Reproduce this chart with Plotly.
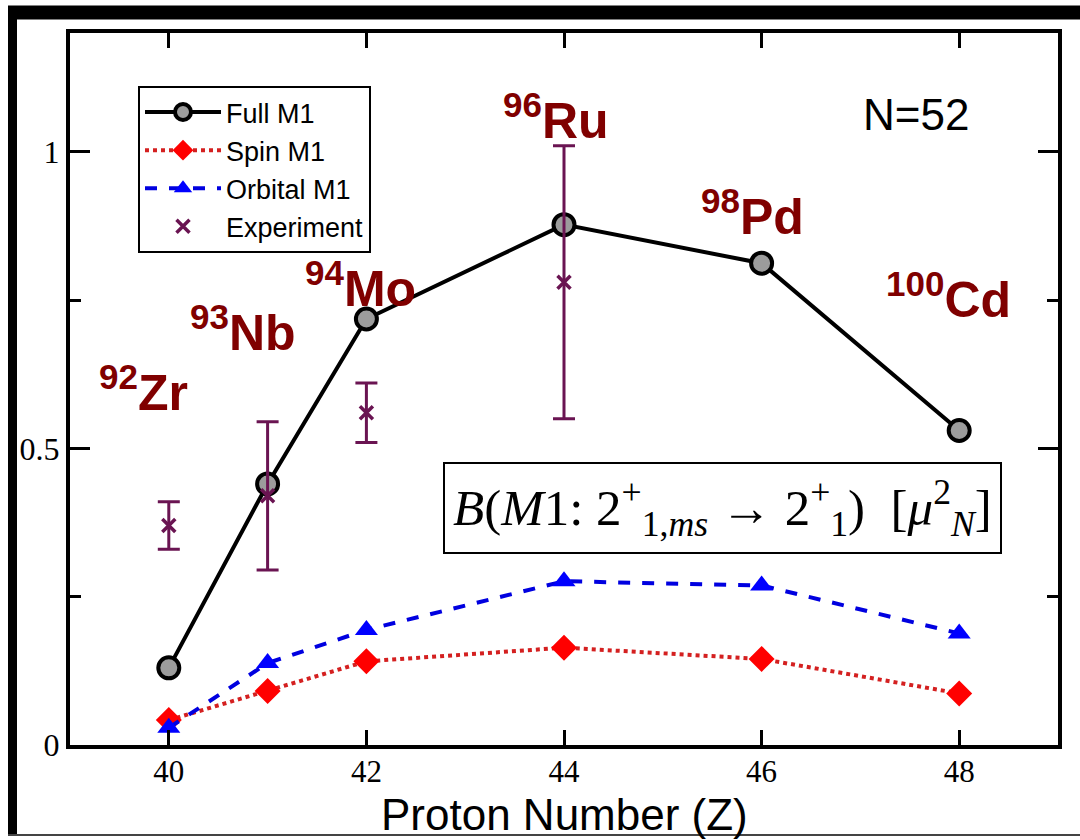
import plotly.graph_objects as go

# Proton number Z of the N=52 isotones
z_values = [40, 41, 42, 44, 46, 48]

# B(M1) strengths in mu_N^2
full_m1 = [0.130, 0.440, 0.718, 0.877, 0.812, 0.530]
spin_m1 = [0.042, 0.091, 0.141, 0.164, 0.145, 0.087]
orbital_m1 = [0.029, 0.138, 0.194, 0.276, 0.269, 0.188]

# Measured values with uncertainties
exp_z = [40, 41, 42, 44]
exp_values = [0.37, 0.42, 0.56, 0.78]
exp_errors = [0.04, 0.125, 0.05, 0.23]

# Isotope labels drawn next to the curve
isotope_mass = ["92", "93", "94", "96", "98", "100"]
isotope_symbol = ["Zr", "Nb", "Mo", "Ru", "Pd", "Cd"]

x_ticks = [40, 42, 44, 46, 48]
y_ticks = [0, 0.5, 1]
y_tick_text = ["0", "0.5", "1"]

W, H = 1080, 840
ML, MR, MT, MB = 70, 22, 33, 95

fig = go.Figure()

fig.add_trace(go.Scatter(
    x=z_values, y=full_m1, name="Full M1", mode="lines+markers",
    line=dict(color="black", width=4),
    marker=dict(symbol="circle", size=21, color="#9c9c9c",
                line=dict(color="black", width=4)),
))
fig.add_trace(go.Scatter(
    x=z_values, y=spin_m1, name="Spin M1", mode="lines+markers",
    line=dict(color="#d42020", width=4, dash="dot"),
    marker=dict(symbol="diamond", size=20, color="#ff0000",
                line=dict(width=0)),
))
fig.add_trace(go.Scatter(
    x=z_values, y=orbital_m1, name="Orbital M1", mode="lines+markers",
    line=dict(color="#0000e0", width=4, dash="dash"),
    marker=dict(symbol="triangle-up", size=20, color="#0000ff",
                line=dict(width=0)),
))
fig.add_trace(go.Scatter(
    x=exp_z, y=exp_values, name="Experiment", mode="markers",
    marker=dict(symbol="x-thin", size=13, color="#6a1452",
                line=dict(color="#6a1452", width=3.5)),
    error_y=dict(type="data", array=exp_errors, visible=True,
                 color="#6a1452", thickness=3, width=11),
))

# Isotope label positions (data coordinates)
label_pos = [(39.74, 0.600), (40.75, 0.701), (41.94, 0.776),
             (43.92, 1.059), (45.91, 0.897), (47.89, 0.757)]
annotations = []
for (lx, ly), mass, sym in zip(label_pos, isotope_mass, isotope_symbol):
    annotations.append(dict(
        x=lx, y=ly, xref="x", yref="y", showarrow=False,
        text=f"<b><sup>{mass}</sup>{sym}</b>",
        font=dict(family="Liberation Sans, Arial", size=50, color="#800000"),
        xanchor="center", yanchor="middle",
    ))

annotations.append(dict(
    x=47.56, y=1.0625, xref="x", yref="y", showarrow=False,
    text="N=52", font=dict(family="Liberation Sans, Arial", size=44, color="black"),
    xanchor="center", yanchor="middle",
))

annotations.append(dict(
    x=45.60, y=0.399, xref="x", yref="y", showarrow=False,
    text=("<i>B</i>(<i>M</i>1: 2<sup>+</sup><sub>1,<i>ms</i></sub> → "
          "2<sup>+</sup><sub>1</sub>)  [<i>μ</i><sup>2</sup><sub><i>N</i></sub>]"),
    font=dict(family="Liberation Serif, Times New Roman", size=51, color="black"),
    xanchor="center", yanchor="middle",
    bordercolor="black", borderwidth=2, borderpad=8, bgcolor="white",
))

annotations.append(dict(
    x=0.5, y=-0.097, xref="paper", yref="paper", showarrow=False,
    text="Proton Number (Z)",
    font=dict(family="Liberation Sans, Arial", size=44, color="black"),
    xanchor="center", yanchor="middle",
))

pw = W - ML - MR
ph = H - MT - MB


def px_x(p):
    return (p - ML) / pw


def px_y(p):
    return (H - MB - p) / ph


# Outer picture frame
shapes = [
    dict(type="line", xref="paper", yref="paper",
         x0=px_x(8), x1=px_x(1085), y0=px_y(12.5), y1=px_y(12.5),
         line=dict(color="black", width=14)),
    dict(type="line", xref="paper", yref="paper",
         x0=px_x(12.5), x1=px_x(12.5), y0=px_y(6), y1=px_y(836),
         line=dict(color="black", width=9)),
    dict(type="line", xref="paper", yref="paper",
         x0=px_x(8), x1=px_x(1085), y0=px_y(835), y1=px_y(835),
         line=dict(color="#444444", width=2)),
]

axis_common = dict(
    showgrid=False, zeroline=False, showline=True, linecolor="black",
    linewidth=4, mirror="allticks", ticks="inside", tickcolor="black",
    tickwidth=3,
)

fig.update_layout(
    width=W, height=H,
    margin=dict(l=ML, r=MR, t=MT, b=MB),
    paper_bgcolor="white", plot_bgcolor="white",
    showlegend=True,
    legend=dict(
        x=px_x(138), y=px_y(86), xanchor="left", yanchor="top",
        bgcolor="white", bordercolor="black", borderwidth=2,
        font=dict(family="Liberation Sans, Arial", size=27, color="black"),
        tracegroupgap=0, itemwidth=76,
    ),
    xaxis=dict(
        range=[39, 49], tickvals=x_ticks, ticklen=15,
        tickfont=dict(family="Liberation Serif, Times New Roman", size=31, color="black"),
        ticklabelstandoff=-4,
        **axis_common,
    ),
    yaxis=dict(
        range=[0, 1.2], tickvals=y_ticks, ticktext=y_tick_text, ticklen=20,
        tickfont=dict(family="Liberation Serif, Times New Roman", size=32, color="black"),
        minor=dict(tickvals=[0.25, 0.75], ticklen=11, tickwidth=3,
                   tickcolor="black", ticks="inside"),
        **axis_common,
    ),
    annotations=annotations,
    shapes=shapes,
)

fig.write_html("out.html")
